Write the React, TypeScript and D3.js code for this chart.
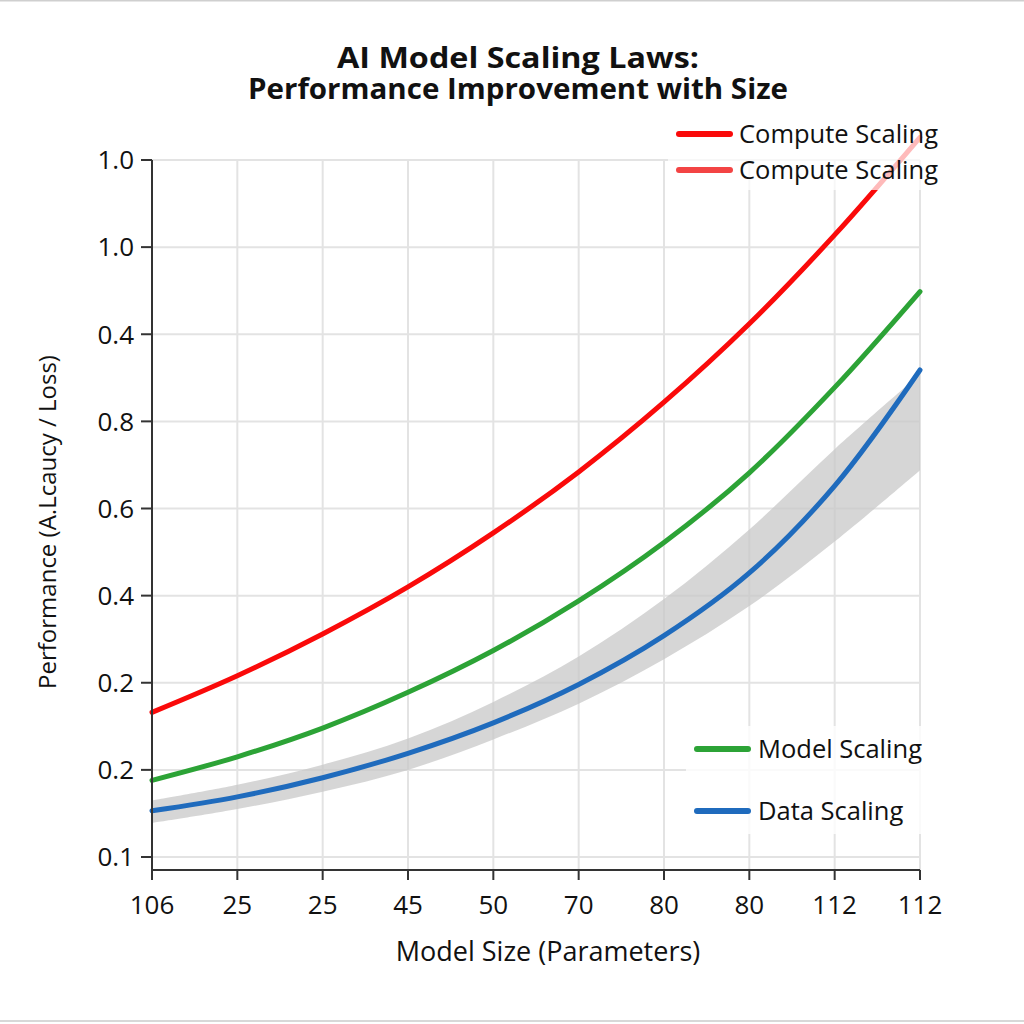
import { useEffect, useRef } from 'react'
import * as d3 from 'd3'

// Category positions along the x axis (labels repeat, so keyed by index)
const xLabels = ['106', '25', '25', '45', '50', '70', '80', '80', '112', '112']
// Y tick labels, bottom to top, one per grid step
const yLabels = ['0.1', '0.2', '0.2', '0.4', '0.6', '0.8', '0.4', '1.0', '1.0']

// Series values in grid-step units (0 = lowest tick, 8 = top tick)
const computeScaling = [1.66, 2.08, 2.56, 3.1, 3.72, 4.42, 5.22, 6.12, 7.14, 8.26]
const modelScaling = [0.88, 1.15, 1.48, 1.89, 2.37, 2.94, 3.61, 4.41, 5.39, 6.49]
const dataScaling = [0.53, 0.69, 0.91, 1.19, 1.54, 1.98, 2.54, 3.26, 4.26, 5.59]
const bandUpper = [0.65, 0.83, 1.06, 1.36, 1.78, 2.3, 2.96, 3.76, 4.68, 5.54]
const bandLower = [0.39, 0.55, 0.75, 1.0, 1.35, 1.76, 2.27, 2.88, 3.62, 4.44]

const FONT = '"Open Sans", "Noto Sans", sans-serif'

export default function App() {
  const svgRef = useRef<SVGSVGElement>(null)
  const width = 1024
  const height = 1024

  useEffect(() => {
    if (!svgRef.current) return
    const svg = d3.select(svgRef.current)
    svg.selectAll('*').remove()

    const left = 152
    const right = 920
    const top = 160
    const gridBottom = 857
    const axisBottom = 870

    const x = d3.scalePoint<number>()
      .domain(xLabels.map((_, i) => i))
      .range([left, right])

    const y = d3.scaleLinear()
      .domain([0, yLabels.length - 1])
      .range([gridBottom, top])

    svg.append('rect')
      .attr('width', width)
      .attr('height', height)
      .style('fill', '#ffffff')

    // Frame lines at top and bottom of the picture
    svg.append('line')
      .attr('x1', 0).attr('x2', width).attr('y1', 0.5).attr('y2', 0.5)
      .style('stroke', '#cfcfcf').style('stroke-width', '2px')
    svg.append('line')
      .attr('x1', 0).attr('x2', width).attr('y1', 1021).attr('y2', 1021)
      .style('stroke', '#d8d8d8').style('stroke-width', '2px')

    // Grid
    xLabels.forEach((_, i) => {
      svg.append('line')
        .attr('x1', x(i)!).attr('x2', x(i)!)
        .attr('y1', top).attr('y2', axisBottom)
        .style('stroke', '#e3e3e3')
        .style('stroke-width', '2px')
    })
    yLabels.forEach((_, i) => {
      svg.append('line')
        .attr('x1', left).attr('x2', right)
        .attr('y1', y(i)).attr('y2', y(i))
        .style('stroke', '#e3e3e3')
        .style('stroke-width', '2px')
    })

    const idx = xLabels.map((_, i) => i)

    // Uncertainty band around data scaling
    const area = d3.area<number>()
      .x(i => x(i)!)
      .y0(i => y(bandLower[i]))
      .y1(i => y(bandUpper[i]))
      .curve(d3.curveCatmullRom.alpha(0.5))

    svg.append('path')
      .datum(idx)
      .attr('d', area)
      .style('fill', '#c8c8c8')
      .style('opacity', 0.75)

    const series = [
      { values: computeScaling, color: '#fa0a0a' },
      { values: modelScaling, color: '#2ca336' },
      { values: dataScaling, color: '#1f6bbd' }
    ]

    series.forEach(s => {
      const line = d3.line<number>()
        .x(i => x(i)!)
        .y(i => y(s.values[i]))
        .curve(d3.curveCatmullRom.alpha(0.5))
      svg.append('path')
        .datum(idx)
        .attr('d', line)
        .style('fill', 'none')
        .style('stroke', s.color)
        .style('stroke-width', '5px')
        .style('stroke-linecap', 'round')
    })

    // Axes
    const axisColor = '#333333'
    svg.append('line')
      .attr('x1', left).attr('x2', left)
      .attr('y1', top).attr('y2', axisBottom)
      .style('stroke', axisColor).style('stroke-width', '2px')
    svg.append('line')
      .attr('x1', left).attr('x2', right)
      .attr('y1', axisBottom).attr('y2', axisBottom)
      .style('stroke', axisColor).style('stroke-width', '2px')

    yLabels.forEach((label, i) => {
      svg.append('line')
        .attr('x1', left - 11).attr('x2', left)
        .attr('y1', y(i)).attr('y2', y(i))
        .style('stroke', axisColor).style('stroke-width', '2px')
      svg.append('text')
        .attr('x', left - 18)
        .attr('y', y(i))
        .attr('dy', '0.36em')
        .attr('text-anchor', 'end')
        .style('fill', '#111')
        .style('font-size', '26px')
        .style('font-family', FONT)
        .text(label)
    })

    xLabels.forEach((label, i) => {
      svg.append('line')
        .attr('x1', x(i)!).attr('x2', x(i)!)
        .attr('y1', axisBottom).attr('y2', axisBottom + 10)
        .style('stroke', axisColor).style('stroke-width', '2px')
      svg.append('text')
        .attr('x', x(i)!)
        .attr('y', 914)
        .attr('text-anchor', 'middle')
        .style('fill', '#111')
        .style('font-size', '26px')
        .style('font-family', FONT)
        .text(label)
    })

    // Axis titles
    svg.append('text')
      .attr('x', 548)
      .attr('y', 961)
      .attr('text-anchor', 'middle')
      .style('fill', '#111')
      .style('font-size', '27px')
      .style('font-family', FONT)
      .text('Model Size (Parameters)')

    svg.append('text')
      .attr('transform', 'translate(47, 522) rotate(-90)')
      .attr('dy', '0.36em')
      .attr('text-anchor', 'middle')
      .style('fill', '#111')
      .style('font-size', '24px')
      .style('font-family', FONT)
      .text('Performance (A.Lcaucy / Loss)')

    // Title (condensed to the reference widths)
    const titleLines = [
      { text: 'AI Model Scaling Laws:', len: 362 },
      { text: 'Performance Improvement with Size', len: 540 }
    ]
    titleLines.forEach((t, i) => {
      svg.append('text')
        .attr('x', 518)
        .attr('y', 68 + i * 31)
        .attr('text-anchor', 'middle')
        .attr('textLength', t.len)
        .attr('lengthAdjust', 'spacingAndGlyphs')
        .style('fill', '#111')
        .style('font-size', '29px')
        .style('font-weight', '700')
        .style('font-family', FONT)
        .text(t.text)
    })

    // Legends
    const legendTop = [
      { label: 'Compute Scaling', color: '#fa0a0a', opacity: 1, y: 134 },
      { label: 'Compute Scaling', color: '#f23a3a', opacity: 0.95, y: 170 }
    ]
    const legendBottom = [
      { label: 'Model Scaling', color: '#2ca336', opacity: 1, y: 749 },
      { label: 'Data Scaling', color: '#1f6bbd', opacity: 1, y: 811 }
    ]

    svg.append('rect')
      .attr('x', 668).attr('y', 114)
      .attr('width', 290).attr('height', 76)
      .style('fill', '#ffffff')
      .style('opacity', 0.72)
    svg.append('rect')
      .attr('x', 686).attr('y', 726)
      .attr('width', 240).attr('height', 108)
      .style('fill', '#ffffff')
      .style('opacity', 0.8)

    const drawLegend = (items: typeof legendTop, x0: number, x1: number, tx: number) => {
      items.forEach(item => {
        svg.append('line')
          .attr('x1', x0).attr('x2', x1)
          .attr('y1', item.y).attr('y2', item.y)
          .style('stroke', item.color)
          .style('stroke-opacity', item.opacity)
          .style('stroke-width', '6px')
          .style('stroke-linecap', 'round')
        svg.append('text')
          .attr('x', tx)
          .attr('y', item.y)
          .attr('dy', '0.36em')
          .style('fill', '#111')
          .style('font-size', '25.5px')
          .style('font-family', FONT)
          .text(item.label)
      })
    }
    drawLegend(legendTop, 679, 730, 739)
    drawLegend(legendBottom, 697, 748, 758)
  }, [])

  return (
    <div style={{ position: 'absolute', left: 0, top: 0 }}>
      <svg ref={svgRef} width={width} height={height} />
    </div>
  )
}
